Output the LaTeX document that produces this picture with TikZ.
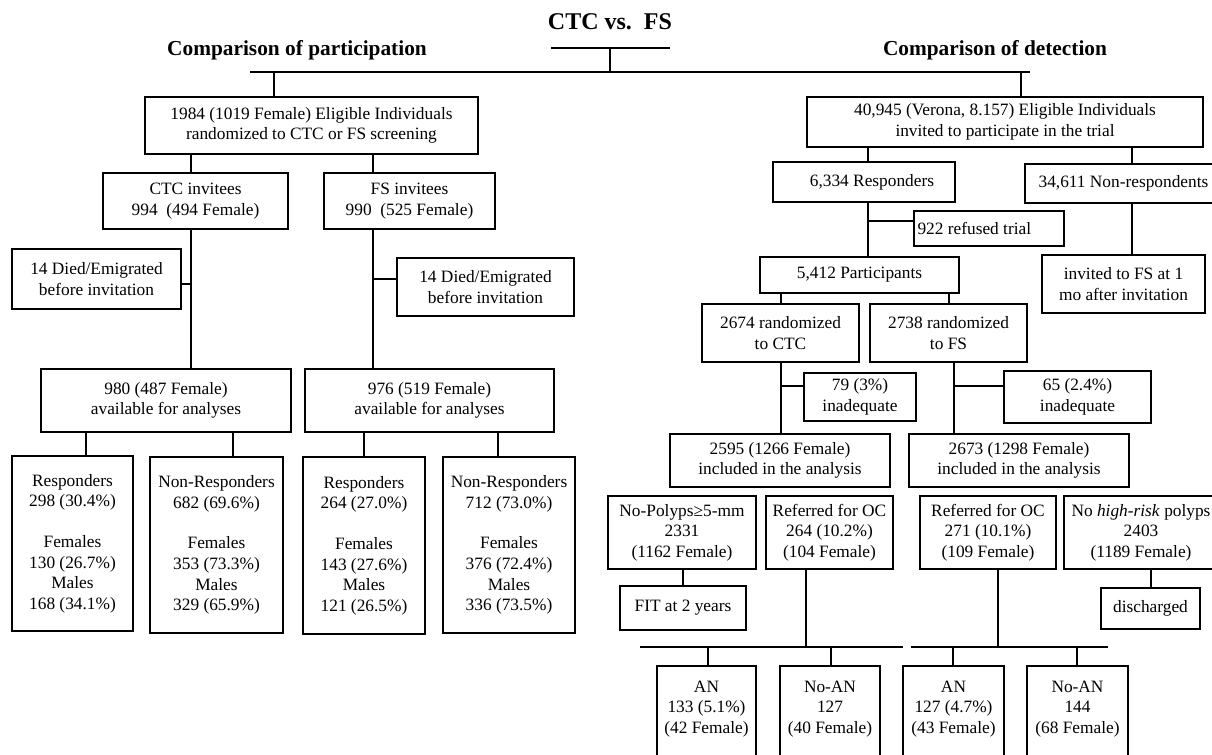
\documentclass[tikz,border=0pt]{standalone}
\usepackage{fontspec}
\setmainfont{Liberation Serif}

\tikzset{
  flowbox/.style={draw, line width=1.4pt, inner sep=0pt, align=center,
    font=\fontsize{13}{15.5}\selectfont},
  wh/.style 2 args={minimum width=#1*0.75pt, minimum height=#2*0.75pt},
  head/.style={anchor=base, font=\bfseries\fontsize{16}{19}\selectfont},
  link/.style={line width=1.4pt}
}

\begin{document}
\begin{tikzpicture}[x=0.75pt, y=-0.75pt]
	\useasboundingbox (0,0) rectangle (1212,754);
	\clip (0,0) rectangle (1212,754);

	% headings
	\node [head, font=\bfseries\fontsize{18}{21}\selectfont] (title) at (610,29) {CTC vs.\ \ FS};
	\node [head] (partic) at (297,55) {Comparison of participation};
	\node [head] (detect) at (995,55) {Comparison of detection};
	\coordinate (tl) at (551,48);
	\coordinate (tr) at (670,48);
	\coordinate (hub) at (610,72);
	\coordinate (barL) at (250,72);
	\coordinate (barR) at (1030,72);

	% participation arm
	\node [flowbox, wh={333}{57}] (elig) at (311.5,125.5) {1984 (1019 Female) Eligible Individuals\\randomized to CTC or FS screening};
	\node [flowbox, wh={185}{56}] (ctcinv) at (195.5,201) {CTC invitees\\994~ (494 Female)};
	\node [flowbox, wh={171}{56}] (fsinv) at (409.5,201) {FS invitees\\990~ (525 Female)};
	\node [flowbox, wh={169}{60}] (diedC) at (96.5,279) {14 Died/Emigrated\\before invitation};
	\node [flowbox, wh={177}{58}] (diedF) at (485.5,287) {14 Died/Emigrated\\before invitation};
	\node [flowbox, wh={250}{63}] (availC) at (166,400.5) {980 (487 Female)\\available for analyses};
	\node [flowbox, wh={249}{63}] (availF) at (429.5,400.5) {976 (519 Female)\\available for analyses};
	\node [flowbox, wh={121}{175}] (respC) at (72.5,543.5) {Responders\\298 (30.4\%)\\[15pt]Females\\130 (26.7\%)\\Males\\168 (34.1\%)};
	\node [flowbox, wh={133}{176}] (nonC) at (216.5,545) {Non-Responders\\682 (69.6\%)\\[15pt]Females\\353 (73.3\%)\\Males\\329 (65.9\%)};
	\node [flowbox, wh={122}{177}] (respF) at (364,545.5) {Responders\\264 (27.0\%)\\[15pt]Females\\143 (27.6\%)\\Males\\121 (26.5\%)};
	\node [flowbox, wh={132}{176}] (nonF) at (509,545) {Non-Responders\\712 (73.0\%)\\[15pt]Females\\376 (72.4\%)\\Males\\336 (73.5\%)};
	\coordinate (jC) at (191,284);
	\coordinate (jF) at (373,279);

	% detection arm
	\node [flowbox, wh={396}{50}] (invited) at (1005,122) {40,945 (Verona, 8.157) Eligible Individuals\\invited to participate in the trial};
	\node [flowbox, wh={182}{40}] (resp) at (864,182) {\hspace{12pt}6,334 Responders};
	\node [flowbox, wh={197}{39}] (nonresp) at (1123.5,183.5) {34,611 Non-respondents};
	\node [flowbox, wh={150}{35}] (refused) at (989,228.5) {922 refused trial\hspace{22pt}};
	\node [flowbox, wh={199}{36}] (part) at (859.5,275) {5,412 Participants};
	\node [flowbox, wh={163}{58}] (invfs) at (1123.5,284) {invited to FS at 1\\mo after invitation};
	\node [flowbox, wh={157}{58}] (rctc) at (780.5,333) {2674 randomized\\to CTC};
	\node [flowbox, wh={157}{58}] (rfs) at (948.5,333) {2738 randomized\\to FS};
	\node [flowbox, wh={112}{48}] (inadC) at (860,397) {79 (3\%)\\inadequate};
	\node [flowbox, wh={147}{52}] (inadF) at (1077.5,397) {65 (2.4\%)\\inadequate};
	\node [flowbox, wh={220}{53}] (inclC) at (780,460.5) {2595 (1266 Female)\\included in the analysis};
	\node [flowbox, wh={220}{53}] (inclF) at (1019,460.5) {2673 (1298 Female)\\included in the analysis};
	\node [flowbox, wh={148}{73}] (nopol) at (682,532.5) {No-Polyps≥5-mm\\2331\\(1162 Female)};
	\node [flowbox, wh={127}{73}] (refC) at (829.5,532.5) {Referred for OC\\264 (10.2\%)\\(104 Female)};
	\node [flowbox, wh={136}{73}] (refF) at (988,532.5) {Referred for OC\\271 (10.1\%)\\(109 Female)};
	\node [flowbox, wh={154}{73}] (nohr) at (1141,532.5) {No \textit{high-risk} polyps\\2403\\(1189 Female)};
	\node [flowbox, wh={126}{44}] (fit) at (683,608) {FIT at 2 years};
	\node [flowbox, wh={99}{41}] (disch) at (1150.5,608.5) {discharged};
	\node [flowbox, wh={99}{0}, anchor=north, inner ysep=11pt, text depth=60pt] (anC) at (706.5,665) {AN\\133 (5.1\%)\\(42 Female)};
	\node [flowbox, wh={100}{0}, anchor=north, inner ysep=11pt, text depth=60pt] (noanC) at (830,665) {No-AN\\127\\(40 Female)};
	\node [flowbox, wh={101}{0}, anchor=north, inner ysep=11pt, text depth=60pt] (anF) at (953.5,665) {AN\\127 (4.7\%)\\(43 Female)};
	\node [flowbox, wh={101}{0}, anchor=north, inner ysep=11pt, text depth=60pt] (noanF) at (1077.5,665) {No-AN\\144\\(68 Female)};
	\coordinate (jR) at (868,221);
	\coordinate (jIC) at (781,386);
	\coordinate (jIF) at (954,386);
	\coordinate (splitCl) at (640,647);
	\coordinate (splitCr) at (903,647);
	\coordinate (splitFl) at (911,647);
	\coordinate (splitFr) at (1108,647);

	% top bars
	\draw [link] (tl) to (tr);
	\draw [link] (hub |- tl) to (hub);
	\draw [link] (barL) to (barR);
	\draw [link] (elig.north -| 274,0) to (barL -| 274,0);
	\draw [link] (invited.north -| 1021,0) to (barR -| 1021,0);

	% participation links
	\draw [link] (elig.south -| jC) to (ctcinv.north -| jC);
	\draw [link] (elig.south -| jF) to (fsinv.north -| jF);
	\draw [link] (ctcinv.south -| jC) to (availC.north -| jC);
	\draw [link] (diedC.east |- jC) to (jC);
	\draw [link] (fsinv.south -| jF) to (availF.north -| jF);
	\draw [link] (diedF.west |- jF) to (jF);
	\draw [link] (availC.south -| 86,0) to (respC.north -| 86,0);
	\draw [link] (availC.south -| 233,0) to (nonC.north -| 233,0);
	\draw [link] (availF.south -| respF) to (respF.north);
	\draw [link] (availF.south -| 498,0) to (nonF.north -| 498,0);

	% detection links
	\draw [link] (invited.south -| jR) to (resp.north -| jR);
	\draw [link] (invited.south -| 1132,0) to (nonresp.north -| 1132,0);
	\draw [link] (nonresp.south -| 1132,0) to (invfs.north -| 1132,0);
	\draw [link] (resp.south -| jR) to (part.north -| jR);
	\draw [link] (refused.west |- jR) to (jR);
	\draw [link] (part.south -| jIC) to (rctc.north -| jIC);
	\draw [link] (part.south -| 949,0) to (rfs.north -| 949,0);
	\draw [link] (rctc.south -| jIC) to (inclC.north -| jIC);
	\draw [link] (inadC.west |- jIC) to (jIC);
	\draw [link] (rfs.south -| jIF) to (inclF.north -| jIF);
	\draw [link] (inadF.west |- jIF) to (jIF);
	\draw [link] (nopol.south -| 683,0) to (fit.north -| 683,0);
	\draw [link] (nohr.south -| 1151,0) to (disch.north -| 1151,0);
	\draw [link] (splitCl) to (splitCr);
	\draw [link] (splitFl) to (splitFr);
	\draw [link] (refC.south -| 806,0) to (splitCl -| 806,0);
	\draw [link] (refF.south -| 998,0) to (splitFl -| 998,0);
	\draw [link] (anC.north -| 708,0) to (splitCl -| 708,0);
	\draw [link] (noanC.north -| 831,0) to (splitCl -| 831,0);
	\draw [link] (anF.north -| 953,0) to (splitFl -| 953,0);
	\draw [link] (noanF.north -| 1077,0) to (splitFl -| 1077,0);
\end{tikzpicture}
\end{document}
